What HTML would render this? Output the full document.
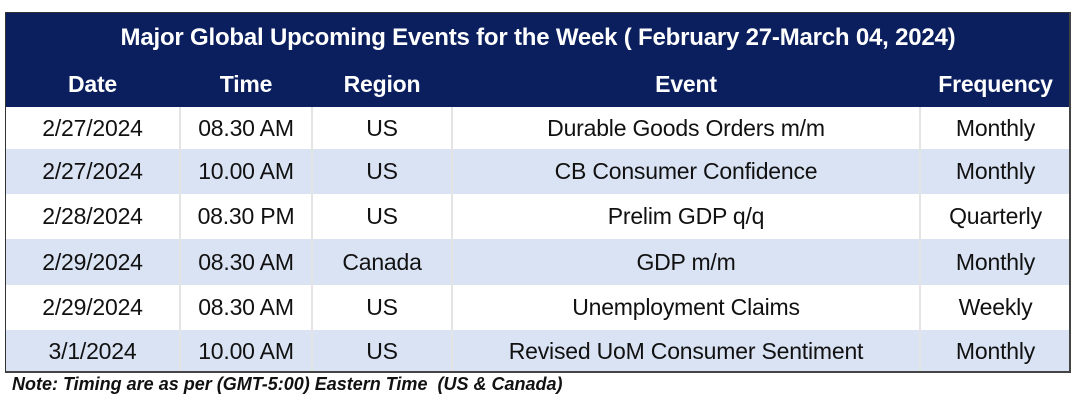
<!DOCTYPE html>
<html><head><style>
body{margin:0;width:1090px;height:416px;background:#fff;position:relative;overflow:hidden;font-family:"Liberation Sans",sans-serif;}
#t{position:absolute;left:5px;top:12px;width:1066px;height:361px;}
#b{position:absolute;left:5px;top:12px;width:1066px;height:361px;border:1px solid #333;border-right:2px solid #444;border-bottom:2px solid #444;box-sizing:border-box;}
.hd{position:absolute;left:0;top:0;width:100%;height:95px;background:#0b1f5e;}
.c{position:absolute;display:flex;align-items:center;justify-content:center;font-size:23px;color:#111;letter-spacing:-0.2px;white-space:nowrap;}
.h{color:#fff;font-weight:bold;font-size:23px;}
.r{position:absolute;left:0;width:100%;}
.v{position:absolute;top:95px;bottom:0;width:2px;background:#e4e4e4;}
#note{position:absolute;left:12px;top:374px;font-size:18px;font-weight:bold;font-style:italic;color:#111;white-space:nowrap;}
</style></head><body>
<div id="t">
<div class="hd"></div>
<div class="r" style="top:95px;height:42px;background:#fff"></div>
<div class="r" style="top:137px;height:45px;background:#dae3f3"></div>
<div class="r" style="top:182px;height:45px;background:#fff"></div>
<div class="r" style="top:227px;height:46px;background:#dae3f3"></div>
<div class="r" style="top:273px;height:45px;background:#fff"></div>
<div class="r" style="top:318px;height:43px;background:#dae3f3"></div>
<div class="v" style="left:174px"></div>
<div class="v" style="left:306px"></div>
<div class="v" style="left:446px"></div>
<div class="v" style="left:914px"></div>
</div>
<div id="b"></div>
<div class="c h" style="left:5px;width:1066px;top:20px;height:36px;font-size:24px">Major Global Upcoming Events for the Week ( February 27-March 04, 2024)</div>
<div id="cells"></div>
<script>
var cols=[[5,180],[180,312],[312,452],[452,920],[920,1071]];
var rows=[[62,44],[107,42],[149,45],[194,45],[239,46],[285,45],[330,42]];
var data=[["Date","Time","Region","Event","Frequency"],
["2/27/2024","08.30 AM","US","Durable Goods Orders m/m","Monthly"],
["2/27/2024","10.00 AM","US","CB Consumer Confidence","Monthly"],
["2/28/2024","08.30 PM","US","Prelim GDP q/q","Quarterly"],
["2/29/2024","08.30 AM","Canada","GDP m/m","Monthly"],
["2/29/2024","08.30 AM","US","Unemployment Claims","Weekly"],
["3/1/2024","10.00 AM","US","Revised UoM Consumer Sentiment","Monthly"]];
var h="";
data.forEach(function(r,i){r.forEach(function(t,j){
h+='<div class="c'+(i==0?' h':'')+'" style="left:'+cols[j][0]+'px;width:'+(cols[j][1]-cols[j][0])+'px;top:'+rows[i][0]+'px;height:'+rows[i][1]+'px">'+t+'</div>';});});
document.getElementById("cells").innerHTML=h;
</script>
<div id="note">Note: Timing are as per (GMT-5:00) Eastern Time&nbsp; (US &amp; Canada)</div>
</body></html>
